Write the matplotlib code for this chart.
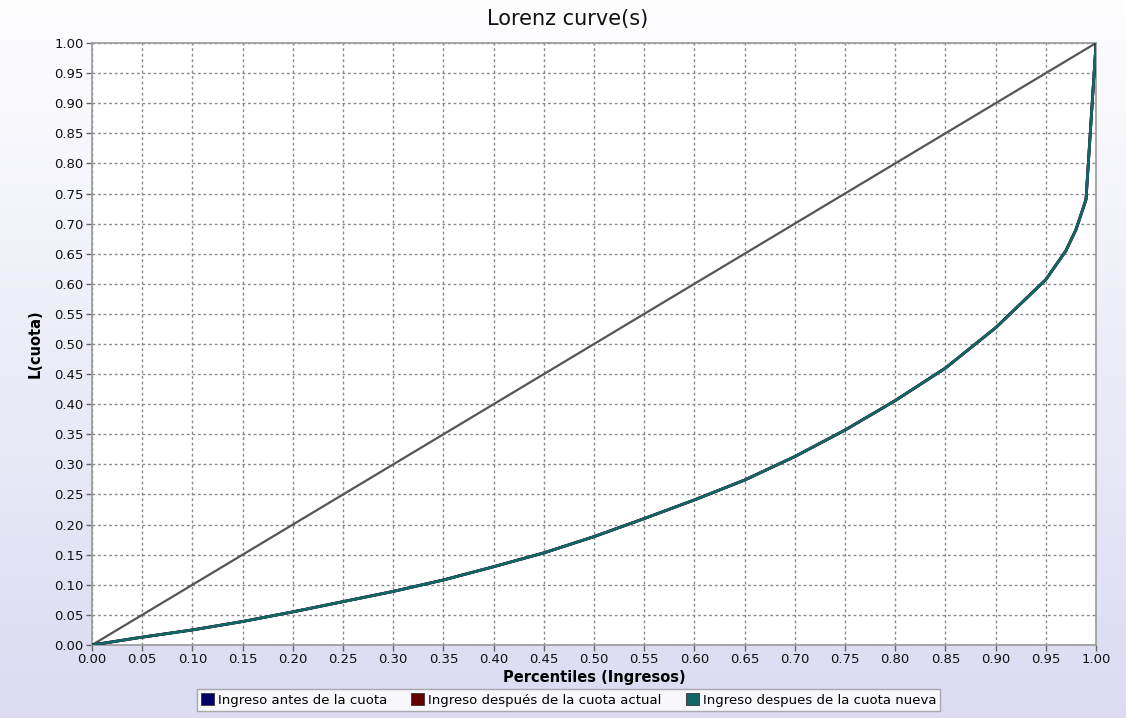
import matplotlib
matplotlib.use('Agg')
import matplotlib.pyplot as plt
import matplotlib.patches as mpatches
import numpy as np

# Lorenz curve (the three series overlap almost exactly)
percentiles = [0.00, 0.05, 0.10, 0.15, 0.20, 0.25, 0.30, 0.35, 0.40, 0.45, 0.50,
               0.55, 0.60, 0.65, 0.70, 0.75, 0.80, 0.85, 0.90, 0.95, 0.97, 0.98,
               0.99, 1.00]
antes = [0.000, 0.013, 0.025, 0.039, 0.055, 0.072, 0.089, 0.108, 0.130, 0.153,
         0.180, 0.210, 0.241, 0.274, 0.313, 0.357, 0.406, 0.460, 0.527, 0.607,
         0.655, 0.690, 0.740, 1.000]
actual = [0.000, 0.013, 0.025, 0.039, 0.055, 0.072, 0.089, 0.108, 0.130, 0.153,
          0.180, 0.210, 0.241, 0.274, 0.313, 0.357, 0.406, 0.460, 0.527, 0.607,
          0.655, 0.690, 0.740, 1.000]
nueva = [0.000, 0.013, 0.025, 0.039, 0.055, 0.072, 0.089, 0.108, 0.130, 0.153,
         0.180, 0.210, 0.241, 0.274, 0.313, 0.357, 0.406, 0.460, 0.527, 0.607,
         0.655, 0.690, 0.740, 1.000]
equality = [0.0, 1.0]

series_labels = ['Ingreso antes de la cuota',
                 'Ingreso después de la cuota actual',
                 'Ingreso despues de la cuota nueva']
series_colors = ['#000066', '#660000', '#116666']

fig = plt.figure(figsize=(11.26, 7.18), dpi=100)

# background gradient, white at the top to lavender at the bottom
bg = fig.add_axes([0, 0, 1, 1], zorder=-10)
grad = np.linspace(0, 1, 256).reshape(-1, 1)
top = np.array([0.995, 0.995, 1.0])
bottom = np.array([0.86, 0.86, 0.95])
img = top + (bottom - top) * grad[:, :, None]
bg.imshow(img, aspect='auto', extent=[0, 1, 0, 1])
bg.axis('off')

ax = fig.add_axes([0.0817, 0.1017, 0.8917, 0.8384])
ax.set_facecolor('white')

ax.plot(equality, equality, color='#555555', linewidth=1.6, zorder=3)
for vals, col, lab in zip([antes, actual, nueva], series_colors, series_labels):
    ax.plot(percentiles, vals, color=col, linewidth=2, label=lab, zorder=4)

ax.set_xlim(0, 1)
ax.set_ylim(0, 1)
ticks = np.arange(0, 1.0001, 0.05)
ax.set_xticks(ticks)
ax.set_yticks(ticks)
ax.set_xticklabels([f'{t:.2f}' for t in ticks])
ax.set_yticklabels([f'{t:.2f}' for t in ticks])
ax.tick_params(labelsize=9.5, length=4, width=1, color='#666666',
               labelcolor='#111111', direction='out', pad=2)
ax.grid(True, linestyle=(0, (2, 2)), color='#8a8a8a', linewidth=1)
ax.set_axisbelow(True)
for side in ['left', 'bottom', 'right', 'top']:
    ax.spines[side].set_color('#999999')
    ax.spines[side].set_linewidth(1.2)

fig.text(0.504, 0.974, 'Lorenz curve(s)', ha='center', va='center',
         fontsize=15, color='#111111')
ax.set_xlabel('Percentiles (Ingresos)', fontsize=10.5, fontweight='bold',
              labelpad=3)
ax.set_ylabel('L(cuota)', fontsize=10.5, fontweight='bold', labelpad=8)

handles = [mpatches.Patch(facecolor=c, edgecolor='#333333', linewidth=0.6)
           for c in series_colors]
leg = fig.legend(handles, series_labels, loc='lower center',
                 bbox_to_anchor=(0.505, 0.001), ncol=3, fontsize=9.5,
                 frameon=True, fancybox=False, edgecolor='#999999',
                 handlelength=1.0, handleheight=1.0, handletextpad=0.3,
                 columnspacing=1.8, borderpad=0.3)
leg.get_frame().set_linewidth(1)

fig.savefig('out.png', dpi=100)
